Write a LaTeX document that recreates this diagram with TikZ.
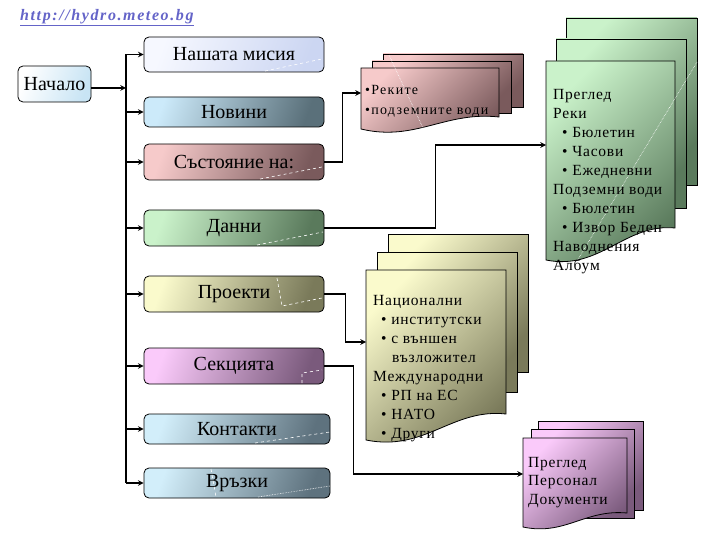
\documentclass[tikz,border=0pt]{standalone}
\usepackage{fontspec}
\setmainfont{Liberation Serif}
\newfontfamily\urlfont[LetterSpace=10]{Liberation Serif}
\newfontfamily\docfont[LetterSpace=5]{Liberation Serif}
\newfontfamily\widefont[LetterSpace=9]{Liberation Serif}
\usetikzlibrary{arrows}
\definecolor{urlblue}{HTML}{6464C8}
\definecolor{startA}{HTML}{FFFFFF}
\definecolor{startB}{HTML}{C8E4F4}
\definecolor{missionA}{HTML}{F6F8FF}
\definecolor{missionB}{HTML}{CCD6F2}
\definecolor{newsA}{HTML}{CCEAFA}
\definecolor{newsB}{HTML}{5A707A}
\definecolor{stateA}{HTML}{F6CACA}
\definecolor{stateB}{HTML}{7A5A5C}
\definecolor{dataA}{HTML}{CAF2CA}
\definecolor{dataB}{HTML}{5A7A5C}
\definecolor{projA}{HTML}{FAFACC}
\definecolor{projB}{HTML}{7A7A5A}
\definecolor{sectA}{HTML}{FACAFA}
\definecolor{sectB}{HTML}{7A5A7C}
\definecolor{contA}{HTML}{D2EEFA}
\definecolor{contB}{HTML}{5E727E}
\tikzstyle{arrow} = [line width=1.5pt,->,>=stealth]
\tikzstyle{boxfill} = [top color=#1A,bottom color=#1B,shading angle=70]
\tikzstyle{docfill} = [top color=#1A,bottom color=#1B,shading angle=45]

\begin{document}
\begin{tikzpicture}
        [
            x=1pt,y=-1pt,
            box/.style={rectangle,rounded corners=5pt,draw=black,line width=0.8pt,minimum width=180pt,minimum height=35pt,font=\fontsize{20}{22}\selectfont},
            sheet/.style={draw=black,line width=0.8pt},
            doctext/.style={anchor=north west,inner sep=0pt,align=left,font=\docfont\fontsize{15.5}{19}\selectfont},
            gleam/.style={white,line width=0.6pt},
        ]
    \useasboundingbox (0,0) rectangle (720,540);

    \node (url) [anchor=west,inner sep=0pt,text=urlblue,font=\urlfont\fontsize{16}{18}\selectfont\bfseries\itshape] at (20,18) {\underline{http://hydro.meteo.bg}};

    % left column
    \node (nachalo) [box,boxfill=start,minimum width=73pt,minimum height=36pt] at (54.5,84) {Начало};
    \node (nasha) [box,boxfill=mission] at (234,54.5) {Нашата мисия};
    \node (novini) [box,boxfill=news,minimum height=30pt] at (234,112) {Новини};
    \node (sast) [box,boxfill=state,minimum height=36pt] at (234,162) {Състояние на:};
    \node (danni) [box,boxfill=data,minimum height=36pt] at (234,228) {Данни};
    \node (proekti) [box,boxfill=proj,minimum height=36pt] at (234,294) {Проекти};
    \node (sekc) [box,boxfill=sect,minimum height=36pt] at (234,366) {Секцията};
    \node (kontakti) [box,boxfill=cont,minimum width=186pt,minimum height=30pt] at (237,429) {Контакти};
    \node (vrazki) [box,boxfill=cont,minimum width=186pt,minimum height=30pt] at (237,483) {Връзки};

    % glints
    \draw[gleam,dashed] (265,71) -- (322,59);
    \draw[gleam,dashed] (260,179) -- (322,167);
    \draw[gleam,dashed] (257,245) -- (323,232);
    \draw[gleam,dashed] (277,278) -- (282,306) -- (322,298);
    \draw[gleam,dashed] (302,383) -- (302,373) -- (322,370);
    \draw[gleam,dashed] (255,443) -- (330,432);
    \draw[gleam,dashed] (211,469) -- (216,497);
    \draw[gleam,densely dotted] (258,497) -- (330,486);

    % bus
    \coordinate (bus) at (126,0);
    \coordinate (nachaloOut) at ([yshift=-4pt]nachalo.east);
    \draw[arrow] (nachaloOut) -- (bus |- nachaloOut);
    \draw[line width=1.5pt] (bus |- nasha) -- (bus |- vrazki);
    \draw[arrow] (bus |- nasha) -- (nasha.west);
    \draw[arrow] (bus |- novini) -- (novini.west);
    \draw[arrow] (bus |- sast) -- (sast.west);
    \draw[arrow] (bus |- danni) -- (danni.west);
    \draw[arrow] (bus |- proekti) -- (proekti.west);
    \draw[arrow] (bus |- sekc) -- (sekc.west);
    \draw[arrow] (bus |- kontakti) -- (kontakti.west);
    \draw[arrow] (bus |- vrazki) -- (vrazki.west);

    % rivers
    \draw[sheet,docfill=state] (383,54) rectangle (523,107);
    \draw[sheet,docfill=state] (372,61) rectangle (511,113);
    \draw[sheet,docfill=state] (361,68) -- (499,68) -- (499,117) .. controls (445,111) and (415,142) .. (361,129) -- cycle;
    \draw[gleam,densely dotted] (389,55) -- (423,128);
    \node (reki) [doctext,font=\widefont\fontsize{14}{20}\selectfont] at (365,85) {•Реките\\•подземните води};
    \coordinate (rekiIn) at (361,93);

    % data
    \draw[sheet,docfill=data] (566,18) rectangle (697,185);
    \draw[sheet,docfill=data] (556,39) rectangle (686,208);
    \draw[sheet,docfill=data] (546,61) -- (675,61) -- (675,228) .. controls (625,223) and (600,271) .. (546,260) -- cycle;
    \draw[gleam,densely dotted] (697,62) -- (574,266);
    \node (pregled) [doctext] at (553,89) {Преглед\\Реки\\\hspace*{9pt}• Бюлетин\\\hspace*{9pt}• Часови\\\hspace*{9pt}• Ежедневни\\Подземни води\\\hspace*{9pt}• Бюлетин\\\hspace*{9pt}• Извор Беден\\Наводнения\\Албум};
    \coordinate (dataIn) at (546,145);

    % projects
    \draw[sheet,docfill=proj] (388,234) rectangle (528,372);
    \draw[sheet,docfill=proj] (377,252) rectangle (517,392);
    \draw[sheet,docfill=proj] (366,270) -- (506,270) -- (506,414) .. controls (452,408) and (425,452) .. (366,440) -- cycle;
    \node (nacion) [doctext] at (373,295) {Национални\\\hspace*{8pt}• институтски\\\hspace*{8pt}• с външен\\\hspace*{19pt}възложител\\Международни\\\hspace*{8pt}• РП на ЕС\\\hspace*{8pt}• НАТО\\\hspace*{8pt}• Други};
    \coordinate (projIn) at (366,342);

    % section
    \draw[sheet,docfill=sect] (538,421) rectangle (643,510);
    \draw[sheet,docfill=sect] (531,429) rectangle (634,518);
    \draw[sheet,docfill=sect] (523,438) -- (627,438) -- (627,513) .. controls (585,509) and (565,536) .. (523,527) -- cycle;
    \node (personal) [doctext,font=\docfont\fontsize{15.5}{18.5}\selectfont] at (528,457) {Преглед\\Персонал\\Документи};
    \coordinate (sectIn) at (523,474);

    % links
    \draw[arrow] (sast.east) -- ++(18,0) |- (rekiIn);
    \draw[arrow] (danni.east) -- ++(111,0) |- (dataIn);
    \draw[arrow] (proekti.east) -- ++(21,0) |- (projIn);
    \draw[arrow] (sekc.east) -- ++(29,0) |- (sectIn);
    \end{tikzpicture}
\end{document}
